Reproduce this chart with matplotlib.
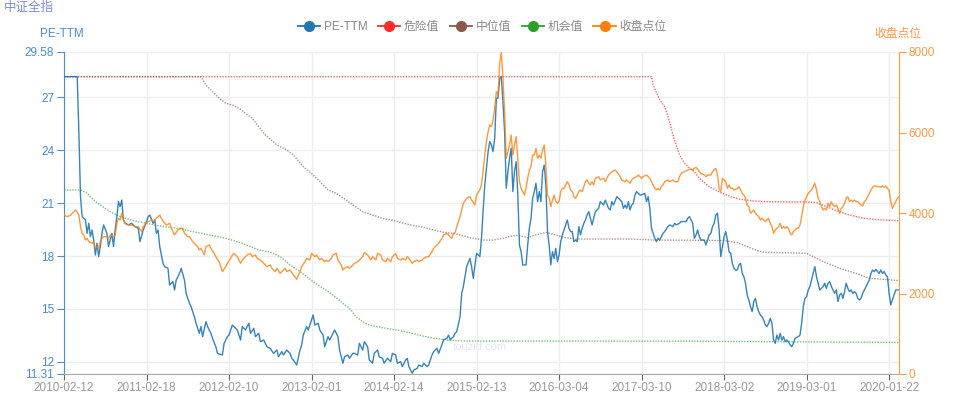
import matplotlib
matplotlib.use("Agg")
import matplotlib.pyplot as plt
from matplotlib.lines import Line2D

plt.rcParams['font.family'] = ['Liberation Sans', 'Noto Sans CJK SC', 'DejaVu Sans']

# x axis: weekly trading categories, labelled every 50 weeks
n_weeks = 507
tick_weeks = [0, 50, 100, 150, 200, 250, 300, 350, 400, 450, 500]
tick_labels = ['2010-02-12', '2011-02-18', '2012-02-10', '2013-02-01', '2014-02-14',
               '2015-02-13', '2016-03-04', '2017-03-10', '2018-03-02', '2019-03-01',
               '2020-01-22']

pe_ticks = [11.31, 12, 15, 18, 21, 24, 27, 29.58]
close_ticks = [0, 2000, 4000, 6000, 8000]

# (week, PE-TTM)
pe_points = [
    (0, 28.18), (8, 28.18), (9, 25.06), (10, 21.37), (11, 20.24), (13, 20.05), (14, 19.29),
    (15, 19.86), (16, 19.10), (17, 19.48), (18, 18.91), (19, 18.06), (20, 18.73), (21, 17.97),
    (22, 18.54), (23, 19.29), (24, 19.77), (26, 19.29), (27, 18.54), (29, 19.29), (30, 18.54),
    (31, 19.48), (32, 20.24), (33, 21.09), (34, 20.81), (35, 21.18), (36, 20.05), (37, 19.86),
    (39, 19.77), (41, 19.86), (43, 19.67), (45, 19.58), (46, 18.82), (48, 19.48), (50, 19.96),
    (51, 20.24), (52, 20.33), (54, 19.86), (55, 20.05), (56, 19.29), (57, 19.48), (58, 18.54),
    (60, 17.59), (61, 17.40), (63, 17.31), (64, 16.36), (66, 16.55), (67, 16.08), (68, 16.64),
    (70, 17.02), (71, 17.31), (73, 16.64), (74, 15.89), (76, 15.32), (77, 15.13), (79, 14.56),
    (80, 14.19), (82, 13.62), (83, 14.00), (84, 13.43), (86, 14.28), (87, 14.00), (89, 13.62),
    (90, 13.33), (92, 12.86), (93, 12.48), (96, 12.39), (97, 13.05), (99, 13.43), (100, 13.52),
    (102, 14.09), (103, 14.00), (105, 13.81), (107, 13.24), (108, 14.00), (110, 13.81),
    (112, 14.19), (113, 13.62), (115, 13.90), (116, 13.43), (118, 13.62), (119, 13.14),
    (121, 13.24), (123, 12.86), (125, 12.76), (127, 12.48), (129, 12.67), (130, 12.29),
    (132, 12.58), (133, 12.39), (135, 12.67), (137, 12.48), (138, 12.20), (139, 12.10),
    (141, 11.82), (143, 12.67), (144, 12.96), (145, 13.52), (147, 14.00), (148, 13.81),
    (150, 14.37), (151, 14.66), (152, 14.09), (154, 14.19), (155, 13.81), (157, 13.52),
    (158, 12.86), (160, 13.43), (161, 13.24), (163, 13.62), (164, 13.81), (166, 13.43),
    (167, 12.67), (169, 11.92), (170, 12.29), (172, 12.39), (173, 12.20), (175, 12.48),
    (176, 12.48), (178, 12.39), (179, 13.05), (181, 12.67), (182, 13.14), (184, 12.86),
    (185, 12.10), (187, 11.92), (188, 12.48), (190, 12.67), (191, 12.29), (193, 12.20),
    (194, 11.92), (196, 12.20), (198, 12.01), (199, 12.48), (201, 12.39), (202, 11.92),
    (204, 12.01), (205, 11.73), (207, 12.10), (208, 12.20), (209, 11.73), (211, 11.35),
    (212, 11.54), (214, 11.63), (215, 11.82), (217, 11.73), (218, 11.92), (220, 11.73),
    (221, 11.82), (223, 12.39), (224, 12.58), (226, 12.77), (227, 12.48), (229, 12.96),
    (230, 13.24), (232, 13.33), (233, 13.52), (234, 13.24), (236, 13.43), (237, 13.62),
    (238, 13.71), (240, 14.56), (241, 15.89), (242, 16.27), (244, 17.40), (246, 17.87),
    (247, 17.40), (248, 16.74), (250, 18.16), (252, 17.97), (253, 19.00), (254, 20.60),
    (255, 22.04), (256, 22.98), (257, 23.93), (258, 24.50), (259, 24.31), (260, 23.93),
    (261, 24.68), (262, 26.96), (263, 26.96), (264, 28.09), (265, 28.18), (266, 26.77),
    (267, 25.06), (268, 21.85), (269, 22.79), (270, 23.55), (271, 24.12), (272, 21.66),
    (273, 22.79), (274, 23.36), (275, 21.47), (276, 18.63), (277, 18.25), (278, 17.50),
    (280, 17.50), (281, 18.63), (282, 19.58), (283, 20.14), (284, 21.28), (285, 21.66),
    (286, 22.13), (287, 21.09), (288, 21.66), (289, 21.09), (290, 22.79), (291, 23.17),
    (292, 22.04), (293, 19.39), (294, 18.63), (295, 17.50), (296, 18.25), (297, 17.87),
    (298, 18.44), (299, 17.69), (300, 18.06), (301, 18.82), (302, 19.20), (303, 19.48),
    (304, 19.77), (305, 20.05), (306, 19.58), (307, 19.39), (308, 19.39), (309, 18.82),
    (310, 18.91), (311, 18.82), (312, 19.67), (313, 19.20), (314, 19.58), (315, 19.86),
    (316, 20.05), (317, 20.33), (318, 20.52), (319, 20.14), (320, 19.77), (321, 20.14),
    (322, 20.52), (324, 20.71), (325, 21.09), (327, 20.90), (328, 21.18), (330, 20.71),
    (331, 20.62), (332, 21.09), (333, 20.90), (335, 21.37), (336, 21.28), (338, 21.09),
    (339, 20.71), (340, 20.90), (341, 20.71), (342, 21.09), (343, 20.62), (344, 20.90),
    (345, 20.99), (346, 21.47), (347, 21.66), (349, 21.47), (350, 21.47), (352, 21.56),
    (353, 21.09), (354, 21.37), (355, 20.71), (356, 19.58), (358, 19.01), (359, 18.82),
    (360, 19.01), (361, 18.91), (362, 19.10), (363, 19.29), (364, 19.39), (366, 19.67),
    (367, 19.77), (369, 19.67), (370, 19.86), (371, 19.77), (373, 19.86), (374, 19.96),
    (375, 19.96), (377, 19.96), (378, 20.14), (379, 20.24), (380, 20.05), (381, 19.86),
    (382, 19.01), (383, 19.20), (384, 19.48), (385, 19.10), (386, 18.91), (388, 18.91),
    (389, 18.63), (390, 18.91), (391, 19.20), (392, 19.29), (393, 19.67), (394, 19.86),
    (395, 20.33), (396, 20.43), (397, 19.48), (398, 17.97), (399, 18.54), (400, 19.10),
    (401, 19.39), (402, 18.91), (403, 18.25), (404, 18.16), (405, 17.59), (406, 17.31),
    (407, 17.21), (408, 17.21), (409, 17.50), (410, 17.59), (411, 17.02), (412, 16.83),
    (413, 16.46), (414, 15.79), (415, 15.51), (416, 15.13), (417, 14.85), (418, 15.42),
    (419, 15.60), (420, 15.13), (421, 14.85), (422, 14.66), (423, 14.56), (424, 14.37),
    (425, 14.09), (426, 14.00), (427, 14.19), (428, 14.47), (429, 14.19), (430, 13.24),
    (431, 13.05), (432, 13.52), (433, 13.24), (434, 13.62), (435, 13.24), (436, 13.43),
    (437, 13.14), (438, 13.24), (439, 13.14), (440, 12.96), (441, 12.86), (442, 13.05),
    (443, 13.33), (444, 13.39), (445, 13.43), (446, 13.52), (447, 14.19), (448, 15.13),
    (449, 15.60), (450, 15.70), (451, 16.08), (452, 16.27), (453, 16.64), (454, 17.02),
    (455, 17.40), (456, 16.83), (457, 16.46), (458, 16.08), (459, 16.17), (460, 16.27),
    (461, 16.46), (462, 16.17), (463, 16.46), (464, 16.55), (465, 16.27), (466, 16.08),
    (467, 15.89), (468, 16.08), (469, 15.42), (470, 15.79), (471, 15.89), (472, 15.60),
    (473, 15.98), (474, 16.46), (475, 16.17), (476, 15.98), (477, 16.08), (478, 15.89),
    (479, 15.98), (480, 15.89), (481, 15.60), (482, 15.51), (483, 15.60), (484, 15.89),
    (485, 16.08), (486, 16.27), (487, 16.46), (488, 16.64), (489, 17.02), (490, 17.21),
    (491, 17.12), (492, 17.25), (493, 17.12), (494, 17.02), (495, 17.21), (496, 17.02),
    (497, 17.12), (498, 16.93), (499, 16.83), (500, 15.89), (501, 15.23), (502, 15.51),
    (503, 15.79), (504, 16.08), (506, 16.08),
]

# (week, danger PE)
danger_points = [
    (0, 28.18), (356, 28.18), (357, 27.71), (361, 26.86), (364, 26.48), (367, 25.63),
    (369, 24.87), (371, 24.31), (373, 23.74), (376, 23.27), (379, 23.00), (382, 22.79),
    (385, 22.41), (391, 21.94), (398, 21.60), (404, 21.37), (410, 21.22), (416, 21.15),
    (423, 21.09), (430, 21.09), (440, 21.07), (450, 21.07), (456, 21.03), (462, 20.81),
    (468, 20.58), (474, 20.39), (480, 20.24), (486, 20.13), (492, 20.07), (500, 20.03),
    (506, 20.01),
]

# (week, median PE)
median_points = [
    (0, 28.18), (83, 28.18), (86, 27.71), (90, 27.33), (94, 26.96), (98, 26.67), (102, 26.58),
    (106, 26.39), (110, 26.10), (114, 25.82), (118, 25.35), (122, 24.87), (126, 24.55),
    (129, 24.31), (135, 24.02), (139, 23.74), (145, 23.08), (151, 22.60), (155, 22.23),
    (160, 21.75), (165, 21.56), (171, 21.18), (175, 20.90), (181, 20.52), (187, 20.33),
    (193, 20.14), (200, 20.01), (206, 19.86), (212, 19.73), (218, 19.63), (224, 19.48),
    (230, 19.35), (236, 19.29), (242, 19.14), (248, 19.01), (254, 18.91), (260, 18.91),
    (266, 19.01), (272, 19.16), (276, 19.16), (281, 19.05), (286, 19.20), (292, 19.35),
    (298, 19.20), (304, 19.05), (310, 18.97), (343, 18.97), (358, 18.91), (380, 18.90),
    (400, 18.88), (408, 18.76), (414, 18.54), (420, 18.31), (424, 18.22), (432, 18.20),
    (450, 18.16), (454, 17.97), (460, 17.69), (470, 17.31), (480, 17.02), (488, 16.74),
    (497, 16.68), (506, 16.61),
]

# (week, opportunity PE)
chance_points = [
    (0, 21.75), (10, 21.75), (14, 21.56), (18, 21.18), (22, 20.90), (28, 20.52), (34, 20.24),
    (42, 20.01), (50, 19.86), (58, 19.71), (68, 19.58), (78, 19.39), (88, 19.20), (98, 19.01),
    (108, 18.73), (118, 18.35), (125, 18.22), (131, 17.97), (137, 17.50), (143, 17.12),
    (151, 16.55), (157, 16.17), (163, 15.79), (169, 15.32), (173, 15.04), (177, 14.56),
    (181, 14.28), (185, 14.09), (193, 13.94), (201, 13.81), (209, 13.66), (217, 13.47),
    (225, 13.33), (232, 13.24), (240, 13.18), (380, 13.17), (506, 13.10),
]

# (week, index close)
close_points = [
    (0, 3950), (2, 3909), (4, 3950), (6, 4033), (7, 4075), (9, 3950), (10, 3661), (11, 3495),
    (12, 3454), (13, 3329), (14, 3371), (15, 3288), (17, 3246), (18, 3288), (19, 3122),
    (20, 3164), (21, 3122), (22, 3288), (23, 3371), (24, 3412), (26, 3412), (27, 3371),
    (28, 3454), (30, 3412), (31, 3454), (32, 3743), (33, 3868), (34, 3826), (35, 3992),
    (36, 3826), (37, 3743), (39, 3702), (41, 3702), (43, 3661), (45, 3661), (47, 3536),
    (48, 3661), (50, 3743), (51, 3785), (53, 3826), (54, 3785), (56, 3868), (58, 3950),
    (59, 3868), (61, 3743), (62, 3702), (64, 3743), (65, 3619), (67, 3454), (69, 3578),
    (70, 3619), (72, 3619), (73, 3495), (75, 3412), (76, 3412), (78, 3288), (79, 3246),
    (81, 3164), (82, 3081), (83, 3122), (85, 2957), (86, 3164), (88, 3205), (89, 3122),
    (91, 2998), (92, 2915), (94, 2791), (95, 2667), (96, 2543), (98, 2667), (99, 2750),
    (101, 2874), (102, 2957), (103, 2998), (105, 2915), (106, 2832), (107, 2750), (108, 2832),
    (110, 2915), (111, 2957), (113, 2998), (114, 2915), (116, 2957), (117, 2874), (119, 2832),
    (120, 2791), (122, 2708), (123, 2667), (125, 2708), (126, 2625), (128, 2543), (129, 2625),
    (131, 2501), (133, 2584), (134, 2625), (135, 2543), (137, 2584), (139, 2460), (140, 2418),
    (141, 2352), (143, 2543), (144, 2667), (146, 2791), (147, 2874), (149, 2832), (150, 2998),
    (152, 2915), (153, 2957), (155, 2832), (156, 2874), (158, 2791), (159, 2832), (160, 2791),
    (162, 2874), (163, 2957), (165, 2998), (166, 2832), (168, 2708), (169, 2584), (170, 2625),
    (172, 2667), (173, 2625), (175, 2708), (176, 2750), (178, 2791), (179, 2832), (181, 2915),
    (182, 3015), (184, 2957), (186, 2832), (187, 2915), (189, 2832), (190, 2998), (192, 2957),
    (193, 2832), (195, 2791), (196, 2874), (198, 2791), (199, 2915), (201, 2998), (202, 2874),
    (204, 2832), (205, 2874), (207, 2832), (208, 2915), (209, 2874), (211, 2750), (212, 2791),
    (214, 2832), (215, 2791), (217, 2832), (218, 2874), (220, 2915), (221, 2915), (223, 3039),
    (224, 3122), (226, 3205), (227, 3246), (229, 3371), (230, 3454), (232, 3495), (233, 3454),
    (235, 3371), (236, 3495), (237, 3512), (238, 3661), (240, 3909), (241, 4075), (242, 4240),
    (244, 4365), (246, 4406), (247, 4323), (249, 4199), (250, 4447), (252, 4572), (253, 4700),
    (254, 5050), (255, 5441), (256, 5773), (257, 6021), (258, 6187), (259, 6145), (260, 6311),
    (261, 6601), (262, 7015), (263, 6932), (264, 7700), (265, 7990), (266, 7346), (267, 6518),
    (268, 5358), (269, 5524), (270, 5690), (271, 5938), (272, 5441), (273, 5690), (274, 5897),
    (275, 5358), (276, 4779), (277, 4613), (278, 4530), (279, 4447), (280, 4613), (281, 4862),
    (282, 5069), (283, 5151), (284, 5441), (285, 5441), (286, 5607), (287, 5358), (288, 5441),
    (289, 5358), (290, 5565), (291, 5690), (292, 5193), (293, 4447), (294, 4365), (295, 4158),
    (296, 4323), (297, 4447), (298, 4282), (299, 4240), (300, 4282), (301, 4530), (302, 4613),
    (303, 4613), (304, 4696), (305, 4779), (306, 4696), (307, 4572), (308, 4530), (309, 4406),
    (310, 4365), (311, 4447), (312, 4530), (313, 4572), (314, 4530), (315, 4655), (316, 4779),
    (317, 4820), (318, 4737), (319, 4696), (320, 4779), (321, 4696), (322, 4862), (324, 4903),
    (325, 4820), (327, 4862), (328, 4779), (330, 4944), (331, 4986), (332, 5027), (334, 5069),
    (335, 5027), (337, 4903), (338, 4820), (340, 4779), (341, 4820), (342, 4779), (343, 4737),
    (344, 4820), (345, 4862), (347, 4903), (348, 4944), (350, 4862), (351, 4903), (353, 4944),
    (354, 4903), (355, 4862), (356, 4779), (357, 4696), (358, 4613), (359, 4572), (360, 4613),
    (361, 4572), (362, 4655), (363, 4696), (364, 4779), (366, 4820), (367, 4779), (369, 4820),
    (370, 4779), (372, 4779), (373, 4903), (374, 4986), (376, 5027), (377, 5044), (379, 5090),
    (381, 5069), (382, 5110), (383, 5135), (385, 5027), (386, 4986), (388, 4944), (389, 4903),
    (390, 4944), (392, 4944), (393, 5027), (395, 5110), (396, 4944), (397, 4613), (398, 4530),
    (399, 4862), (400, 4820), (401, 4779), (402, 4613), (403, 4696), (404, 4613), (405, 4613),
    (406, 4572), (408, 4613), (409, 4655), (410, 4572), (411, 4489), (412, 4447), (413, 4365),
    (414, 4199), (415, 4158), (416, 3992), (417, 4033), (418, 4075), (419, 3992), (420, 3950),
    (421, 3909), (422, 3826), (423, 3868), (424, 3826), (425, 3785), (426, 3826), (427, 3868),
    (428, 3743), (429, 3661), (430, 3495), (431, 3578), (432, 3619), (433, 3661), (434, 3743),
    (435, 3619), (436, 3661), (437, 3619), (438, 3661), (439, 3619), (440, 3495), (441, 3454),
    (442, 3536), (443, 3578), (444, 3619), (445, 3619), (446, 3702), (447, 3909), (448, 4158),
    (449, 4323), (450, 4406), (451, 4489), (452, 4530), (453, 4572), (454, 4655), (455, 4737),
    (456, 4572), (457, 4365), (458, 4282), (459, 4158), (460, 4075), (461, 4116), (462, 4075),
    (463, 4240), (464, 4158), (465, 4282), (466, 4199), (467, 4158), (468, 4199), (469, 4116),
    (470, 3992), (471, 4116), (472, 4158), (473, 4240), (474, 4365), (475, 4406), (476, 4282),
    (477, 4323), (478, 4282), (479, 4323), (480, 4282), (481, 4282), (482, 4240), (483, 4199),
    (484, 4174), (485, 4282), (486, 4323), (487, 4406), (488, 4489), (489, 4572), (490, 4638),
    (491, 4671), (492, 4671), (493, 4655), (494, 4655), (495, 4638), (496, 4671), (497, 4638),
    (498, 4671), (499, 4613), (500, 4572), (501, 4282), (502, 4116), (503, 4199), (504, 4282),
    (505, 4365), (506, 4406),
]

series_names = ['PE-TTM', '危险值', '中位值', '机会值', '收盘点位']
series_colors = ['#1f77b4', '#ff2a2a', '#8c564b', '#2ca02c', '#ff7f0e']

fig = plt.figure(figsize=(9.64, 3.94), dpi=100)
ax = fig.add_axes([64 / 964, 20 / 394, 835 / 964, 322 / 394])
ax2 = ax.twinx()

dot = (0, (1, 1))
for pts, color, alpha in [(danger_points, series_colors[1], 0.7),
                          (median_points, series_colors[2], 0.65),
                          (chance_points, series_colors[3], 0.65)]:
    wx, wy = zip(*pts)
    ax.plot(wx, wy, color=color, lw=1.0, ls=dot, alpha=alpha, zorder=2)

wx, wy = zip(*pe_points)
ax.plot(wx, wy, color=series_colors[0], lw=1.0, alpha=0.9, zorder=3)

wx, wy = zip(*close_points)
ax2.plot(wx, wy, color=series_colors[4], lw=1.0, alpha=0.8)

# axes styling
ax.set_xlim(0, n_weeks - 1)
ax.set_ylim(pe_ticks[0], pe_ticks[-1])
ax2.set_ylim(close_ticks[0], close_ticks[-1])

ax.set_xticks(tick_weeks)
ax.set_xticklabels(tick_labels, fontsize=8.5, color='#999999')
ax.set_yticks(pe_ticks)
ax.set_yticklabels([f'{v:g}' for v in pe_ticks], fontsize=8.5, color='#4a8ccc')
ax2.set_yticks(close_ticks)
ax2.set_yticklabels([str(v) for v in close_ticks], fontsize=8.5, color='#ff9a45')

ax.grid(True, color='#eeeeee', lw=1)
ax.set_axisbelow(True)
ax.tick_params(axis='x', length=4, color='#666666', pad=2)
ax.tick_params(axis='y', length=5, color='#4a8ccc', pad=2)
ax2.tick_params(axis='y', length=5, color='#ff9a45', pad=2)

for s in ['top', 'right']:
    ax.spines[s].set_visible(False)
ax.spines['left'].set_color('#4a8ccc')
ax.spines['bottom'].set_color('#aaaaaa')
for s in ['top', 'left', 'bottom']:
    ax2.spines[s].set_visible(False)
ax2.spines['right'].set_color('#ff9a45')

# texts
fig.text(4 / 964, 1 - 8 / 394, '中证全指', fontsize=9, color='#7b8fd6', ha='left', va='center')
fig.text(62 / 964, 1 - 34 / 394, 'PE-TTM', fontsize=8.5, color='#4a8ccc', ha='center', va='center')
fig.text(898 / 964, 1 - 34 / 394, '收盘点位', fontsize=8.5, color='#ff9a45', ha='center', va='center')
ax.text(0.466, 0.085, 'touzid.com', transform=ax.transAxes, fontsize=8,
        color='#e2e7f2', ha='left', va='center', zorder=1)

handles = [Line2D([], [], color=c, lw=1.3, marker='o', markersize=7, alpha=1.0)
           for c in series_colors]
leg = fig.legend(handles, series_names, loc='center', bbox_to_anchor=(0.5, 1 - 27 / 394),
                 ncol=5, frameon=False, fontsize=8.5, handlelength=1.9, handletextpad=0.3,
                 columnspacing=0.9, borderpad=0)
for t in leg.get_texts():
    t.set_color('#888888')

fig.savefig('out.png', dpi=100)
